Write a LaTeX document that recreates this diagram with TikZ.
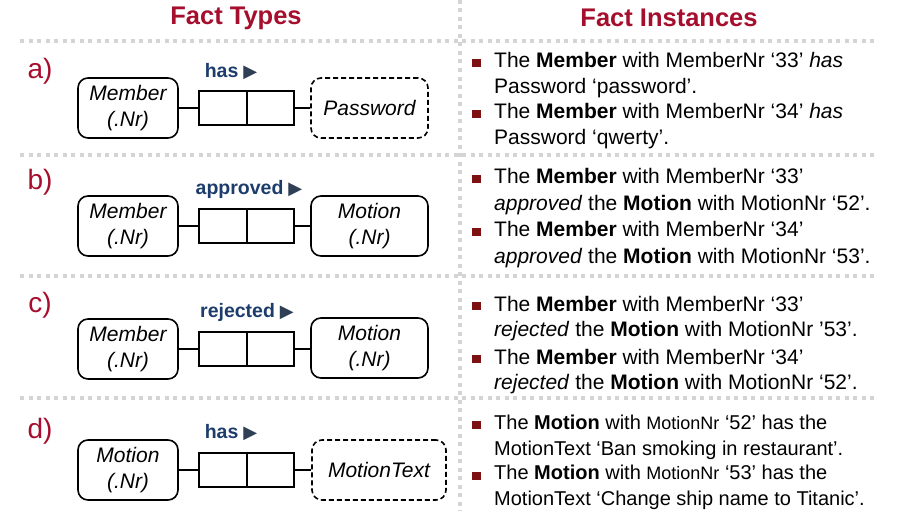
\documentclass[tikz,border=0pt]{standalone}
\usepackage{fontspec}
\setmainfont{Liberation Sans}
\newfontfamily\symfont{DejaVu Sans}
\definecolor{factred}{RGB}{165,15,45}
\definecolor{roleblue}{RGB}{28,60,108}
\definecolor{tricol}{RGB}{47,63,85}
\definecolor{bulletred}{RGB}{125,16,16}
\definecolor{sepgray}{RGB}{212,212,212}
\newcommand\playtri{\hspace{5pt}{\symfont\color{tricol}\fontsize{18}{18}\selectfont ▶}}
\begin{document}
\begin{tikzpicture}[x=1pt,y=-1pt]
\tikzset{entity/.style = {draw,rounded corners=10pt,line width=1.6pt,minimum width=100pt,minimum height=60pt,inner sep=0pt,align=center,font=\fontsize{21}{26}\selectfont\itshape},
  valtype/.style = {entity,dash pattern=on 5pt off 3pt},
  role/.style = {draw,line width=1.6pt,minimum width=47.5pt,minimum height=34pt,inner sep=0pt},
  rolename/.style = {font=\fontsize{19.5}{20}\selectfont\bfseries,text=roleblue},
  rowlabel/.style = {font=\fontsize{28}{28}\selectfont,text=factred},
  title/.style = {font=\fontsize{25.5}{26}\selectfont\bfseries,text=factred},
  sep/.style = {line width=4pt,sepgray,dash pattern=on 4pt off 4.5pt},
  fact/.style = {anchor=base west,align=left,inner sep=0pt,font=\fontsize{21}{26}\selectfont},
  bullet/.style = {fill=bulletred,minimum width=9pt,minimum height=8.5pt,inner sep=0pt},
  link/.style = {line width=1.6pt}}
\useasboundingbox (0,0) rectangle (907,511);
% separators
\draw[sep] (460,0) -- (460,511);
\foreach \y in {41,155,276,398} \draw[sep] (20,\y) -- (878,\y);
\node[title](t1) at (236,18) {Fact Types};
\node[title](t2) at (669,18) {Fact Instances};
% a) Member has Password
\node[rowlabel](la) at (40,71) {a)};
\node[entity](m1) at (128,108) {Member\\(.Nr)};
\node[role](r1) at (223,108) {}; \node[role](s1) at (270.5,108) {};
\node[valtype,minimum width=117pt](p1) at (369.5,108) {Password};
\node[rolename](n1) at (231,72) {has\playtri};
\draw[link] (m1) -- (r1); \draw[link] (s1) -- (p1);
% b) Member approved Motion
\node[rowlabel](lb) at (40,182) {b)};
\node[entity](m2) at (128,226) {Member\\(.Nr)};
\node[role](r2) at (223,226) {}; \node[role](s2) at (270.5,226) {};
\node[entity,minimum width=117pt](o2) at (369.5,226) {Motion\\(.Nr)};
\node[rolename](n2) at (249,189) {approved\playtri};
\draw[link] (m2) -- (r2); \draw[link] (s2) -- (o2);
% c) Member rejected Motion
\node[rowlabel](lc) at (40,305) {c)};
\node[entity](m3) at (128,349) {Member\\(.Nr)};
\node[role](r3) at (223,349) {}; \node[role](s3) at (270.5,349) {};
\node[entity,minimum width=117pt](o3) at (369.5,348) {Motion\\(.Nr)};
\node[rolename](n3) at (247,312) {rejected\playtri};
\draw[link] (m3) -- (r3); \draw[link] (s3) -- (o3.west |- s3);
% d) Motion has MotionText
\node[rowlabel](ld) at (40,431) {d)};
\node[entity](m4) at (128,470) {Motion\\(.Nr)};
\node[role](r4) at (223,470) {}; \node[role](s4) at (270.5,470) {};
\node[valtype,minimum width=134pt](x4) at (379,470) {MotionText};
\node[rolename](n4) at (231,433) {has\playtri};
\draw[link] (m4) -- (r4); \draw[link] (s4) -- (x4);
% fact instances (base = last line)
\node[bullet](ba1) at (476.5,63) {};
\node[fact](fa1) at (494,93) {The \textbf{Member} with MemberNr ‘33’ \textit{has}\\Password ‘password’.};
\node[bullet](ba2) at (476.5,114) {};
\node[fact](fa2) at (494,144) {The \textbf{Member} with MemberNr ‘34’ \textit{has}\\Password ‘qwerty’.};
\node[bullet](bb1) at (476.5,179) {};
\node[fact,font=\fontsize{21}{27}\selectfont](fb1) at (494,210) {The \textbf{Member} with MemberNr ‘33’\\\textit{approved} the \textbf{Motion} with MotionNr ‘52’.};
\node[bullet](bb2) at (476.5,232) {};
\node[fact,font=\fontsize{21}{27}\selectfont](fb2) at (494,263) {The \textbf{Member} with MemberNr ‘34’\\\textit{approved} the \textbf{Motion} with MotionNr ‘53’.};
\node[bullet](bc1) at (476.5,306) {};
\node[fact,font=\fontsize{21}{25}\selectfont](fc1) at (494,336) {The \textbf{Member} with MemberNr ‘33’\\\textit{rejected} the \textbf{Motion} with MotionNr ’53’.};
\node[bullet](bc2) at (476.5,359) {};
\node[fact,font=\fontsize{21}{25}\selectfont](fc2) at (494,389) {The \textbf{Member} with MemberNr ‘34’\\\textit{rejected} the \textbf{Motion} with MotionNr ‘52’.};
\node[bullet](bd1) at (476.5,425) {};
\node[fact,font=\fontsize{20}{26}\selectfont](fd1) at (494,455) {The \textbf{Motion} with {\fontsize{18}{26}\selectfont MotionNr} ‘52’ has the\\MotionText ‘Ban smoking in restaurant’.};
\node[bullet](bd2) at (476.5,476) {};
\node[fact,font=\fontsize{20}{26}\selectfont](fd2) at (494,505) {The \textbf{Motion} with {\fontsize{18}{26}\selectfont MotionNr} ‘53’ has the\\MotionText ‘Change ship name to Titanic’.};
\end{tikzpicture}
\end{document}
